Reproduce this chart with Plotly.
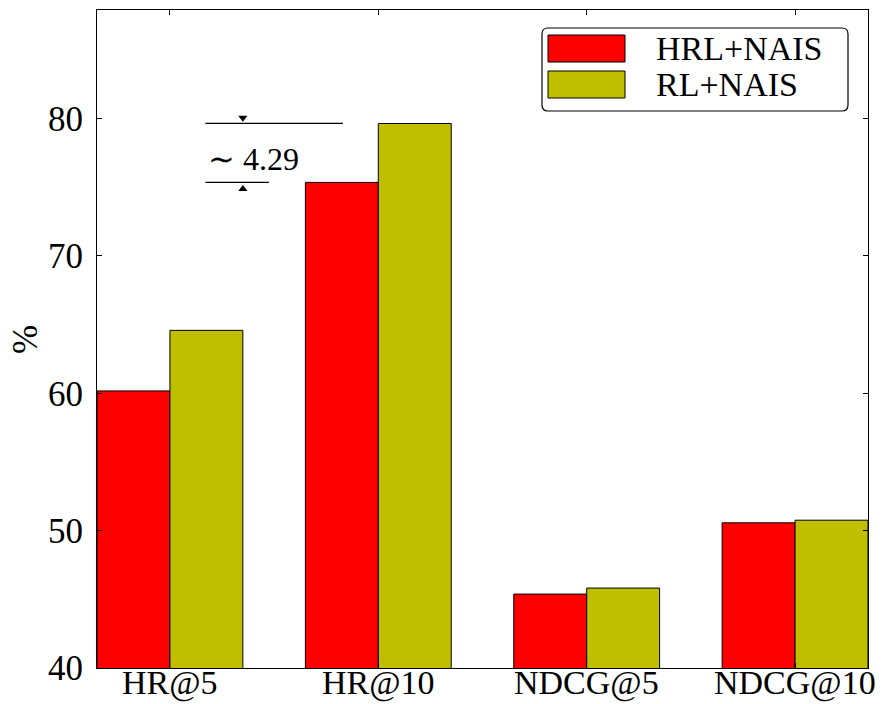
import plotly.graph_objects as go

categories = ["HR@5", "HR@10", "NDCG@5", "NDCG@10"]
hrl_nais = [60.17, 75.35, 45.38, 50.57]
rl_nais = [64.58, 79.64, 45.82, 50.76]
series_names = ["HRL+NAIS", "RL+NAIS"]
y_ticks = [40, 50, 60, 70, 80]
diff_label = 4.29

FONT = "Liberation Serif, Times New Roman, serif"
RED = "#ff0000"
YEL = "#bfbf00"

W, H = 887, 704
L, R, T, B = 97, 19, 10, 36
PW, PH = W - L - R, H - T - B


def px2paper(x, y):
    return (x - L) / PW, (H - B - y) / PH


xpos = list(range(len(categories)))

fig = go.Figure()
fig.add_trace(go.Bar(x=xpos, y=hrl_nais, name=series_names[0],
                     marker=dict(color=RED, line=dict(color="black", width=1))))
fig.add_trace(go.Bar(x=xpos, y=rl_nais, name=series_names[1],
                     marker=dict(color=YEL, line=dict(color="black", width=1))))

# difference annotation on HR@10
fig.add_shape(type="line", xref="x", yref="y", x0=0.17, x1=0.83,
              y0=rl_nais[1], y1=rl_nais[1], line=dict(color="black", width=1.3))
fig.add_shape(type="line", xref="x", yref="y", x0=0.17, x1=0.475,
              y0=hrl_nais[1], y1=hrl_nais[1], line=dict(color="black", width=1.3))
fig.add_trace(go.Scatter(x=[0.35, 0.35], y=[rl_nais[1] + 0.42, hrl_nais[1] - 0.48],
                         mode="markers", showlegend=False, hoverinfo="skip",
                         marker=dict(symbol=["triangle-down", "triangle-up"], size=8,
                                     color="black", line=dict(width=0))))
fig.add_annotation(x=0.175, y=(rl_nais[1] + hrl_nais[1]) / 2, xref="x", yref="y",
                   text="∼ %.2f" % diff_label, showarrow=False, xanchor="left", yanchor="middle",
                   yshift=-6, font=dict(family=FONT, size=32, color="black"))

# x category labels
for i, cat in enumerate(categories):
    fig.add_annotation(x=xpos[i], y=0, xref="x", yref="paper", text=cat, showarrow=False,
                       xanchor="center", yanchor="top", yshift=5, borderpad=0,
                       font=dict(family=FONT, size=34, color="black"))

# y label
yl_x, yl_y = px2paper(25, 340)
fig.add_annotation(x=yl_x, y=yl_y, xref="paper", yref="paper",
                   text="%", textangle=-90, showarrow=False, xanchor="center", yanchor="middle",
                   font=dict(family=FONT, size=35, color="black"))

# custom legend
bx0, bx1, by0, by1, rr = 542, 848, 28, 111, 6


def P(x, y):
    a, b = px2paper(x, y)
    return f"{a:.5f},{b:.5f}"


path = (f"M {P(bx0+rr,by0)} L {P(bx1-rr,by0)} Q {P(bx1,by0)} {P(bx1,by0+rr)} "
        f"L {P(bx1,by1-rr)} Q {P(bx1,by1)} {P(bx1-rr,by1)} L {P(bx0+rr,by1)} "
        f"Q {P(bx0,by1)} {P(bx0,by1-rr)} L {P(bx0,by0+rr)} Q {P(bx0,by0)} {P(bx0+rr,by0)} Z")
fig.add_shape(type="path", xref="paper", yref="paper", path=path,
              fillcolor="white", line=dict(color="black", width=1.2), layer="above")
for i, (name, col) in enumerate(zip(series_names, [RED, YEL])):
    y0 = 35 + i * 36
    a0, b0 = px2paper(548, y0)
    a1, b1 = px2paper(625, y0 + 27)
    fig.add_shape(type="rect", xref="paper", yref="paper", x0=a0, x1=a1, y0=b1, y1=b0,
                  fillcolor=col, line=dict(color="black", width=1), layer="above")
    tx, ty = px2paper(655, y0 + 13.5)
    fig.add_annotation(x=tx, y=ty, xref="paper", yref="paper", text=name, showarrow=False,
                       xanchor="left", yanchor="middle", borderpad=0,
                       font=dict(family=FONT, size=34, color="black"))

fig.update_layout(
    width=W, height=H,
    margin=dict(l=L, r=R, t=T, b=B, autoexpand=False),
    paper_bgcolor="white", plot_bgcolor="white",
    barmode="group", bargap=0.3, bargroupgap=0,
    showlegend=False,
    font=dict(family=FONT, size=35, color="black"),
)
fig.update_xaxes(range=[-0.35, 3.35], tickvals=xpos, showticklabels=False,
                 showline=True, linecolor="black", linewidth=1.2, automargin=False,
                 mirror="ticks", ticks="inside", ticklen=5, tickcolor="black",
                 showgrid=False, zeroline=False)
fig.update_yaxes(range=[40, 87.9], tickvals=y_ticks, showline=True, linecolor="black",
                 linewidth=1.2, mirror="ticks", ticks="inside", ticklen=5, tickcolor="black",
                 showgrid=False, zeroline=False, ticklabelstandoff=6, automargin=False,
                 tickfont=dict(family=FONT, size=35, color="black"))

fig.write_html("out.html", config={"displayModeBar": False},
               post_script="document.body.style.margin='0';"
                           "document.body.style.overflow='hidden';"
                           "document.documentElement.style.overflow='hidden';")
